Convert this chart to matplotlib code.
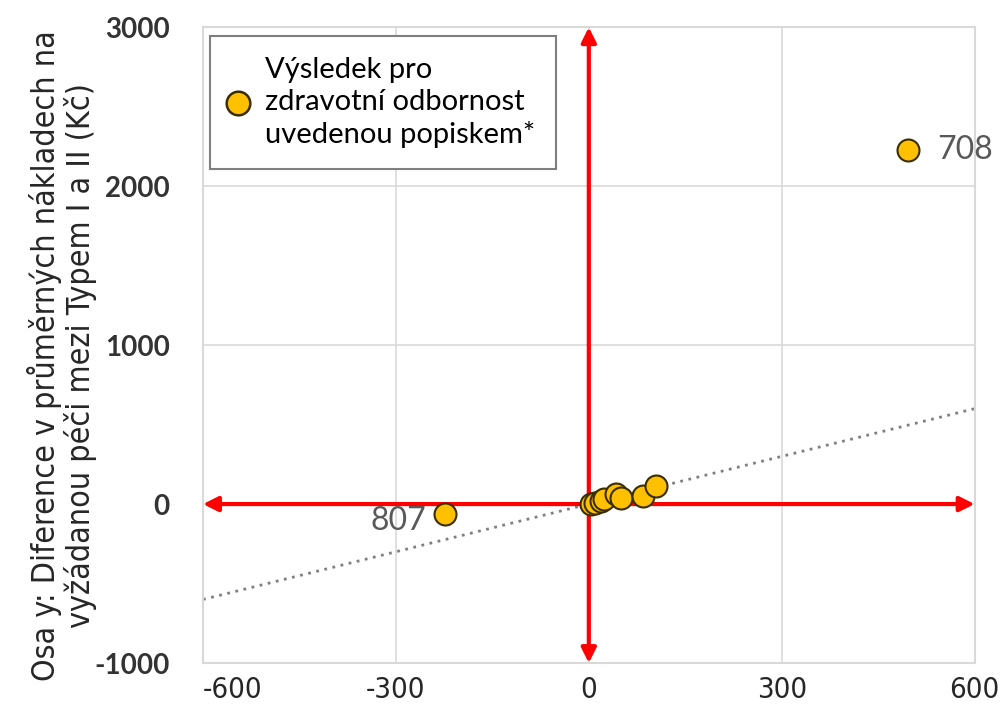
import matplotlib.pyplot as plt
from matplotlib import font_manager
from matplotlib.lines import Line2D

plt.rcParams["axes.unicode_minus"] = False

# values
x_vals = [3, 9, 19, 23, 42, 50, 84, 104, 496, -224]
y_vals = [0, 6, 19, 31, 63, 38, 50, 113, 2230, -63]
point_labels = {8: "708", 9: "807"}

x_ticks = [-600, -300, 0, 300, 600]
y_ticks = [-1000, 0, 1000, 2000, 3000]
ref_line = [-600, 600]

legend_text = "Výsledek pro\nzdravotní odbornost\nuvedenou popiskem*"
ylabel = "Osa y: Diference v průměrných nákladech na\nvyžádanou péči mezi Typem I a II (Kč)"

# narrow font for x ticks and the y label, if one is around
names = {f.name for f in font_manager.fontManager.ttflist}
if "Liberation Sans Narrow" in names:
    narrow = dict(family="Liberation Sans Narrow")
else:
    narrow = dict(family="DejaVu Sans", stretch="condensed")

fig = plt.figure(figsize=(10.06, 7.16), dpi=100)
ax = fig.add_axes([0.2018, 0.074, 0.767, 0.888])

ax.set_xlim(-600, 600)
ax.set_ylim(-1000, 3000)
ax.set_xticks(x_ticks)
ax.set_yticks(y_ticks)
ax.grid(True, color="#d9d9d9", lw=1.2)
ax.set_axisbelow(True)
for sp in ax.spines.values():
    sp.set_color("#d9d9d9")
    sp.set_linewidth(1.5)
ax.tick_params(axis="x", length=0, pad=9)
ax.tick_params(axis="y", length=0, pad=24)

for lab in ax.get_xticklabels():
    lab.set(fontsize=21, color="#262626", **narrow)
ax.get_xticklabels()[0].set_ha("left")
for lab in ax.get_yticklabels():
    lab.set(family="Lato", fontsize=20, fontweight="bold", color="#333333")

# y = x reference line
ax.plot(ref_line, ref_line, ls=(0, (1, 2)), color="#7f7f7f", lw=2, zorder=2)

# red axis arrows
arrow = dict(arrowstyle="<|-|>", color="red", lw=3, mutation_scale=22,
             shrinkA=0, shrinkB=0)
ax.annotate("", xy=(600, 0), xytext=(-600, 0), arrowprops=arrow, zorder=3)
ax.annotate("", xy=(0, 3000), xytext=(0, -1000), arrowprops=arrow, zorder=3)

ax.scatter(x_vals, y_vals, s=250, color="#FFC000", edgecolor="#3a2e00",
           linewidth=1.5, zorder=4)
for i, txt in point_labels.items():
    if x_vals[i] > 0:
        ax.annotate(txt, (x_vals[i], y_vals[i]), xytext=(21, 0),
                    textcoords="offset points", ha="left", va="center",
                    fontsize=23, family="Lato", color="#595959",
                    annotation_clip=False)
    else:
        ax.annotate(txt, (x_vals[i], y_vals[i]), xytext=(-13, -5),
                    textcoords="offset points", ha="right", va="center",
                    fontsize=23, family="Lato", color="#595959")

handle = Line2D([], [], ls="none", marker="o", markersize=17,
                markerfacecolor="#FFC000", markeredgecolor="#3a2e00",
                markeredgewidth=1.8)
leg = ax.legend([handle], [legend_text], loc="upper left",
                bbox_to_anchor=(0.009, 0.986), borderaxespad=0,
                prop={"family": "Lato", "size": 21},
                fancybox=False, framealpha=1, edgecolor="#7f7f7f",
                handletextpad=0.7, borderpad=0.7, handlelength=0.5)
leg.get_frame().set_linewidth(1.5)
leg.get_texts()[0].set_linespacing(1.3)

ax.set_ylabel(ylabel, fontsize=23, color="#262626", linespacing=1.05, **narrow)
ax.yaxis.set_label_coords(-0.138, 0.484)

fig.savefig("out.png", dpi=100)
